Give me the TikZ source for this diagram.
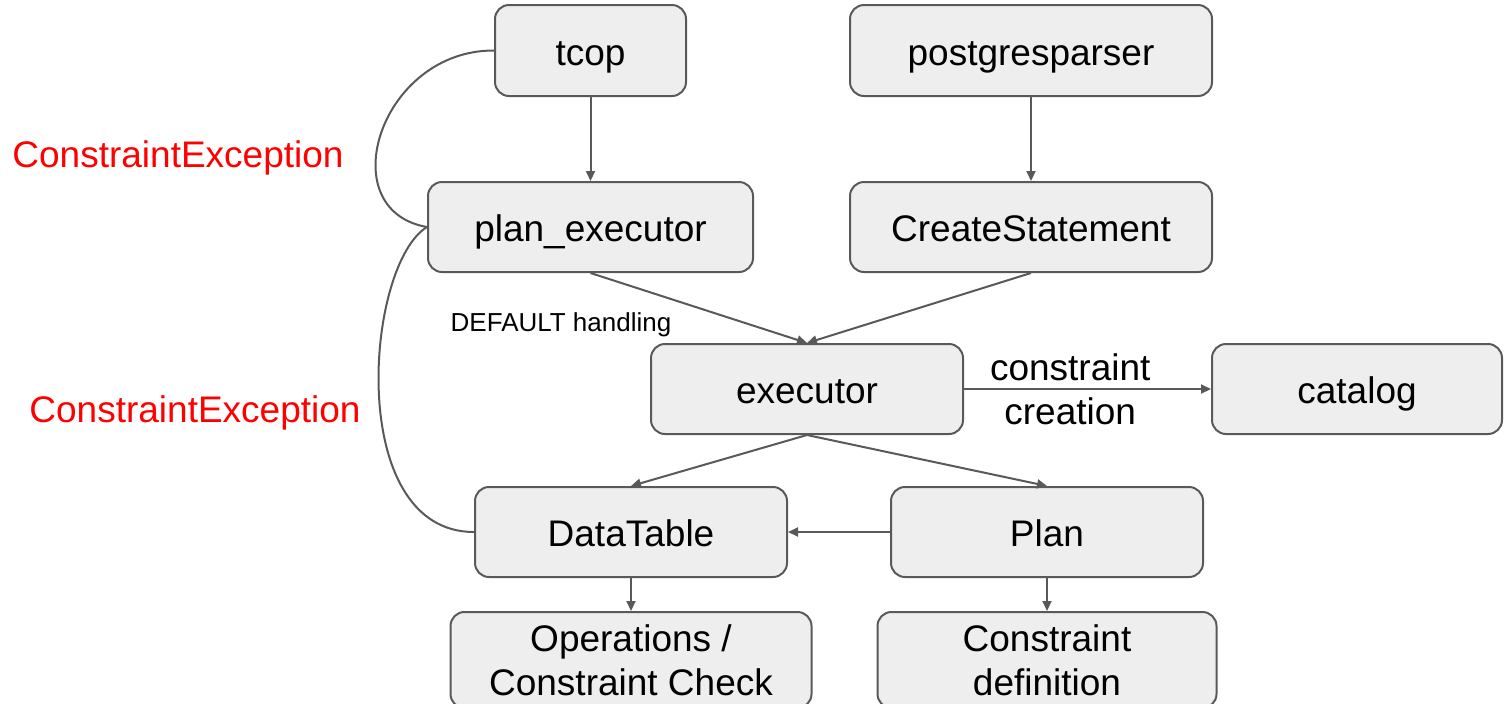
\documentclass[tikz,border=0pt]{standalone}
\usepackage{fontspec}
\setmainfont{Liberation Sans}
\usetikzlibrary{arrows.meta}
\definecolor{boxfill}{HTML}{EEEEEE}
\definecolor{linegray}{HTML}{595959}
\begin{document}
\begin{tikzpicture}[x=0.5pt,y=-0.5pt,
  box/.style={draw=linegray, fill=boxfill, line width=1pt, rounded corners=7pt, minimum height=45pt, align=center, font=\fontsize{18.5}{22}\selectfont},
  onebox/.style={box, text height=16pt, text depth=1.4pt},
  flow/.style={draw=linegray, line width=1pt, -{Triangle[length=5pt,width=4.5pt]}},
  loop/.style={draw=linegray, line width=1pt},
  errlabel/.style={text=red, font=\fontsize{18.5}{22}\selectfont}]
\useasboundingbox (0,0) rectangle (1505,703);
\node[onebox, minimum width=95.5pt, minimum height=45.5pt] (tcop) at (590.5,50.5) {tcop};
\node[onebox, minimum width=181pt, minimum height=45.5pt] (parser) at (1031,50.5) {postgresparser};
\node[onebox, minimum width=162.5pt] (planexec) at (590.5,227) {plan\_executor};
\node[onebox, minimum width=181pt] (createstmt) at (1031,227) {CreateStatement};
\node[onebox, minimum width=156pt] (executor) at (807,389) {executor};
\node[onebox, minimum width=145pt] (catalog) at (1357,389) {catalog};
\node[onebox, minimum width=156pt] (datatable) at (631,532) {DataTable};
\node[onebox, minimum width=156pt] (plan) at (1047,532) {Plan};
\node[box, minimum width=180.5pt, minimum height=48pt] (ops) at (631,660) {Operations /\\Constraint Check};
\node[box, minimum width=169.5pt, minimum height=48pt] (cdef) at (1047,660) {Constraint\\definition};
\node[errlabel] (exc1) at (178,158) {ConstraintException};
\node[errlabel] (exc2) at (195,413) {ConstraintException};
\node[font=\fontsize{13}{15}\selectfont] (defaults) at (561,325) {DEFAULT handling};
\draw[flow] (tcop) -- (planexec);
\draw[flow] (parser) -- (createstmt);
\draw[flow] (planexec.south) -- (executor.north);
\draw[flow] (createstmt.south) -- (executor.north);
\draw[flow] (executor.south) -- (datatable.north);
\draw[flow] (executor.south) -- (plan.north);
\draw[flow] (plan) -- (datatable);
\draw[flow] (datatable) -- (ops);
\draw[flow] (plan) -- (cdef);
\draw[flow] (executor) -- node[pos=0.43, align=center, font=\fontsize{18.5}{22}\selectfont] {constraint\\creation} (catalog);
\draw[loop] (tcop.west) .. controls (380,50) and (330,210) .. (planexec.west);
\draw[loop] (planexec.west) .. controls (365,265) and (345,532) .. (datatable.west);
\end{tikzpicture}
\end{document}
